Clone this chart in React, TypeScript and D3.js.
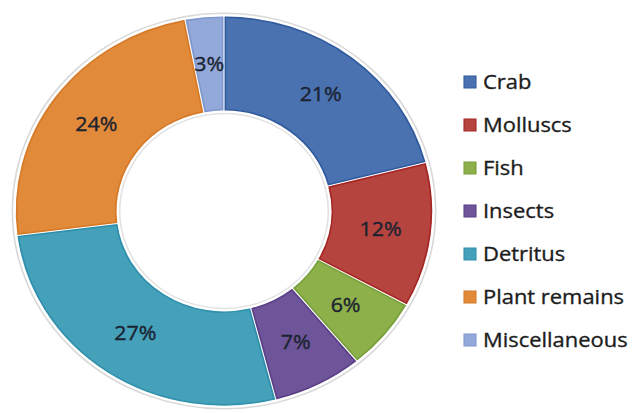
import React from "react";
import * as d3 from "d3";

const categories = ["Crab", "Molluscs", "Fish", "Insects", "Detritus", "Plant remains", "Miscellaneous"];
const values = [21, 12, 6, 7, 27, 24, 3];
const fills = ["#4A72B0", "#B5443F", "#8DB04A", "#6E5498", "#45A0B9", "#E08A3A", "#93A9D9"];
const edges = ["#2F5A9E", "#A52624", "#78A03A", "#5A3F88", "#2E90AC", "#D67A28", "#7F98CF"];

const W = 633;
const H = 413;
const SX = 1.07;
const cx = 224 / SX;
const cy = 211;
const R = 196;
const r0 = 99;

export default function App() {
  const pie = d3.pie<number>().sort(null).value((d) => d)(values);
  const arc = d3.arc<d3.PieArcDatum<number>>().innerRadius(r0).outerRadius(R);
  const arcIn = d3.arc<d3.PieArcDatum<number>>().innerRadius(r0 + 2.2).outerRadius(R - 2.2).padAngle(0.012);
  const labelArc = d3.arc<d3.PieArcDatum<number>>().innerRadius((r0 + R) / 2).outerRadius((r0 + R) / 2);
  const legendY = d3.scalePoint<string>().domain(categories).range([82, 340]);
  const lx = 464 / SX;
  const tx = 483 / SX;
  const font = "'Open Sans', sans-serif";
  return (
    <svg width={W} height={H} style={{ position: "absolute", left: 0, top: 0, background: "#fff" }}>
      <g transform={`scale(${SX},1)`}>
        <g transform={`translate(${cx},${cy})`}>
          <circle r={R + 1.8} fill="none" stroke="#d8d8d8" strokeWidth={1.5} />
          <circle r={r0 - 1.5} fill="none" stroke="#e2e2e2" strokeWidth={1.5} />
          {pie.map((p, i) => (
            <path key={"a" + i} d={arc(p) || ""} fill="#fff" stroke="#fff" strokeWidth={1} />
          ))}
          {pie.map((p, i) => (
            <path key={"b" + i} d={arcIn(p) || ""} fill={fills[i]} stroke={edges[i]} strokeWidth={1.6} />
          ))}
          {pie.map((p, i) => {
            const [x, y] = labelArc.centroid(p);
            return (
              <text key={"t" + i} x={x} y={y} dy="0.35em" textAnchor="middle" fontFamily={font} fontSize={20} fill="#1a2230" stroke="#1a2230" strokeWidth={0.35}>
                {values[i]}%
              </text>
            );
          })}
        </g>
        {categories.map((c, i) => (
          <g key={"l" + i}>
            <rect x={lx} y={(legendY(c) as number) - 6} width={12 / SX} height={12} fill={fills[i]} stroke={edges[i]} strokeWidth={1} />
            <text x={tx} y={legendY(c) as number} dy="0.35em" fontFamily={font} fontSize={20.5} fill="#1c1c1c" stroke="#1c1c1c" strokeWidth={0.35}>
              {c}
            </text>
          </g>
        ))}
      </g>
    </svg>
  );
}
